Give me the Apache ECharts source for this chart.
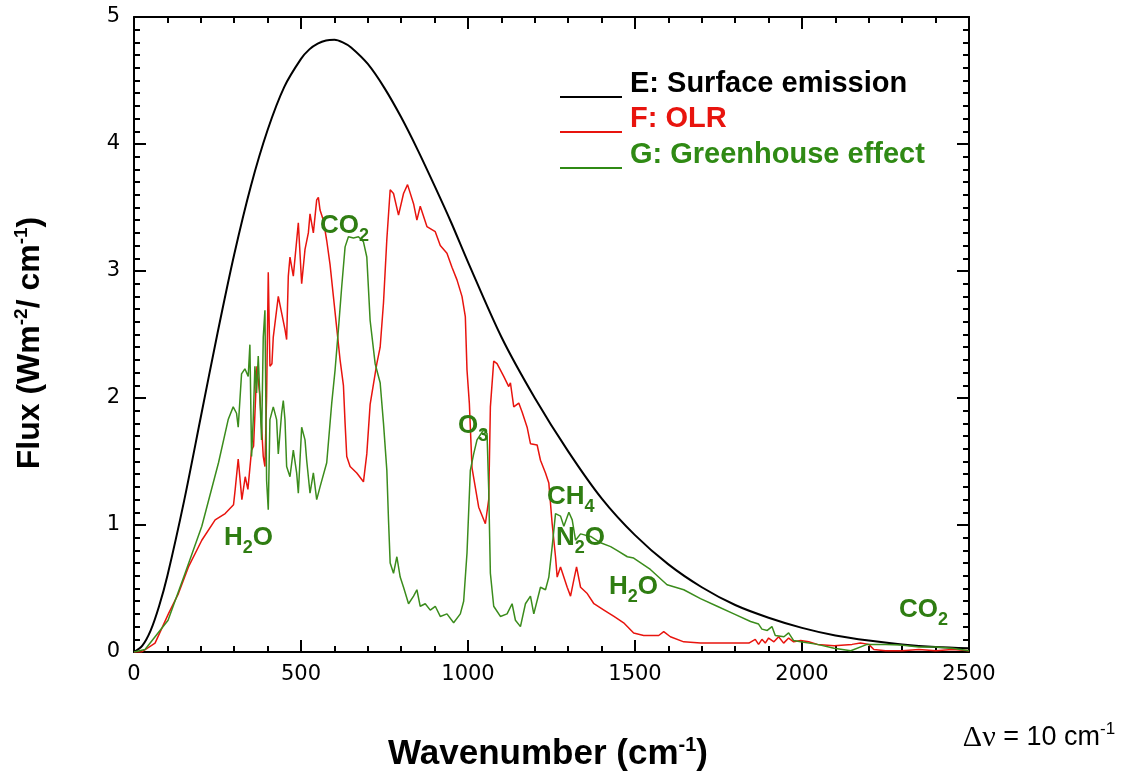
<!DOCTYPE html>
<html>
<head>
<meta charset="utf-8">
<title>Surface emission, OLR and greenhouse effect</title>
<script src="https://cdn.jsdelivr.net/npm/echarts@6/dist/echarts.min.js"></script>
<style>
html, body { margin: 0; padding: 0; background: #fff; }
#chart { width: 1135px; height: 774px; }
</style>
</head>
<body>
<div id="chart"></div>
<script>
// E: surface emission (black)
var surfaceNu = [0, 25, 50, 75, 100, 150, 200, 250, 300, 350, 400, 450, 500, 525, 550, 575, 600, 625, 650, 700, 750, 800, 850, 900, 950, 1000, 1100, 1200, 1300, 1400, 1500, 1600, 1700, 1800, 1900, 2000, 2100, 2200, 2300, 2400, 2500];
var surfaceFlux = [0, 0.05, 0.17, 0.36, 0.60, 1.19, 1.85, 2.51, 3.13, 3.67, 4.11, 4.45, 4.67, 4.745, 4.79, 4.815, 4.82, 4.80, 4.76, 4.63, 4.44, 4.21, 3.95, 3.67, 3.38, 3.07, 2.48, 2.00, 1.58, 1.21, 0.92, 0.69, 0.51, 0.37, 0.27, 0.19, 0.13, 0.09, 0.06, 0.04, 0.03];

// F: OLR (red)
var olrNu = [0, 23, 63, 103, 133, 163, 203, 243, 273, 298, 303, 312, 323, 333, 341, 352, 358, 368, 377, 387, 392, 397, 402, 407, 413, 417, 432, 442, 452, 457, 462, 467, 477, 492, 502, 512, 522, 527, 537, 547, 552, 557, 567, 577, 587, 597, 607, 617, 627, 632, 637, 647, 667, 687, 697, 707, 727, 737, 747, 757, 767, 777, 792, 807, 819, 837, 847, 857, 877, 902, 917, 937, 952, 967, 982, 992, 997, 1004, 1012, 1032, 1052, 1062, 1067, 1077, 1087, 1107, 1122, 1127, 1137, 1152, 1162, 1177, 1187, 1207, 1217, 1232, 1242, 1252, 1262, 1267, 1277, 1297, 1307, 1317, 1325, 1337, 1357, 1377, 1407, 1437, 1466, 1496, 1526, 1571, 1586, 1606, 1646, 1696, 1796, 1841, 1860, 1870, 1880, 1890, 1900, 1916, 1930, 1945, 1960, 1975, 1996, 2020, 2046, 2096, 2150, 2175, 2200, 2215, 2250, 2300, 2350, 2400, 2450, 2500];
var olrFlux = [0, 0.0, 0.07, 0.30, 0.46, 0.67, 0.88, 1.04, 1.09, 1.16, 1.28, 1.52, 1.20, 1.38, 1.28, 1.59, 1.62, 2.25, 2.01, 1.54, 1.46, 2.01, 2.99, 2.25, 2.27, 2.48, 2.80, 2.67, 2.54, 2.46, 2.96, 3.11, 2.96, 3.38, 2.90, 3.17, 3.30, 3.45, 3.30, 3.56, 3.58, 3.48, 3.40, 3.24, 3.05, 2.80, 2.55, 2.30, 2.10, 1.80, 1.54, 1.46, 1.41, 1.34, 1.56, 1.95, 2.27, 2.40, 2.75, 3.25, 3.64, 3.61, 3.44, 3.61, 3.68, 3.53, 3.40, 3.51, 3.35, 3.31, 3.20, 3.14, 3.03, 2.93, 2.80, 2.64, 2.22, 1.96, 1.45, 1.14, 1.01, 1.20, 1.93, 2.29, 2.27, 2.17, 2.09, 2.12, 1.93, 1.96, 1.89, 1.77, 1.64, 1.63, 1.51, 1.41, 1.33, 1.01, 0.75, 0.59, 0.67, 0.51, 0.44, 0.57, 0.67, 0.51, 0.46, 0.38, 0.33, 0.28, 0.23, 0.15, 0.13, 0.13, 0.16, 0.12, 0.08, 0.07, 0.07, 0.07, 0.10, 0.06, 0.10, 0.07, 0.11, 0.08, 0.12, 0.07, 0.11, 0.08, 0.09, 0.08, 0.06, 0.05, 0.06, 0.07, 0.06, 0.02, 0.01, 0.01, 0.02, 0.01, 0.02, 0.01];

// G: greenhouse effect (green)
var greenNu = [0, 33, 102, 153, 203, 253, 282, 297, 307, 312, 322, 332, 342, 347, 352, 357, 362, 367, 372, 377, 382, 387, 392, 397, 402, 407, 417, 427, 432, 442, 447, 452, 457, 467, 477, 487, 492, 502, 512, 517, 527, 537, 547, 557, 577, 592, 602, 612, 622, 632, 642, 657, 672, 687, 697, 707, 722, 737, 747, 757, 762, 767, 777, 787, 797, 807, 822, 837, 847, 857, 872, 887, 902, 917, 937, 957, 977, 987, 997, 1007, 1017, 1027, 1047, 1057, 1062, 1067, 1077, 1097, 1117, 1132, 1142, 1157, 1172, 1187, 1197, 1217, 1232, 1242, 1252, 1262, 1277, 1287, 1302, 1312, 1322, 1337, 1367, 1397, 1427, 1446, 1477, 1496, 1546, 1596, 1646, 1696, 1746, 1796, 1846, 1870, 1880, 1896, 1910, 1920, 1946, 1960, 1975, 1996, 2046, 2096, 2146, 2195, 2250, 2295, 2350, 2400, 2450, 2500];
var greenFlux = [0, 0.02, 0.25, 0.62, 0.99, 1.49, 1.83, 1.93, 1.88, 1.77, 2.19, 2.23, 2.17, 2.42, 1.54, 1.83, 2.25, 2.04, 2.33, 2.00, 1.67, 2.48, 2.69, 1.35, 1.12, 1.83, 1.93, 1.83, 1.56, 1.88, 1.98, 1.83, 1.46, 1.38, 1.59, 1.41, 1.25, 1.77, 1.67, 1.51, 1.25, 1.41, 1.20, 1.30, 1.49, 1.96, 2.22, 2.54, 2.88, 3.19, 3.27, 3.26, 3.27, 3.23, 3.11, 2.61, 2.27, 2.12, 1.80, 1.43, 1.04, 0.70, 0.62, 0.75, 0.59, 0.51, 0.38, 0.44, 0.49, 0.36, 0.38, 0.33, 0.36, 0.28, 0.30, 0.23, 0.30, 0.40, 0.78, 1.43, 1.56, 1.67, 1.75, 1.72, 1.28, 0.62, 0.36, 0.28, 0.30, 0.38, 0.25, 0.20, 0.38, 0.44, 0.30, 0.51, 0.49, 0.59, 0.83, 1.09, 1.07, 0.99, 1.10, 1.04, 0.88, 0.93, 0.91, 0.86, 0.83, 0.80, 0.75, 0.74, 0.65, 0.53, 0.49, 0.42, 0.36, 0.30, 0.24, 0.22, 0.18, 0.17, 0.20, 0.13, 0.12, 0.15, 0.09, 0.08, 0.06, 0.03, 0.01, 0.06, 0.06, 0.055, 0.04, 0.04, 0.03, 0.01];

var xTicks = [0, 2500, 500];
var yTicks = [0, 5, 1];

var GREEN_TEXT = '#2f7d12';

function pairs(xs, ys) {
    var out = [];
    for (var i = 0; i < xs.length; ++i) {
        out.push([xs[i], ys[i]]);
    }
    return out;
}

function makeAxis(kind, position, showLabels, minorSplit) {
    var range = kind == 'x' ? xTicks : yTicks;
    return {
        type: 'value',
        position: position,
        min: range[0],
        max: range[1],
        interval: range[2],
        axisLine: { show: true, onZero: false, lineStyle: { color: '#000', width: 2 } },
        axisTick: { show: true, inside: true, length: 12, lineStyle: { color: '#000', width: 2 } },
        minorTick: { show: true, splitNumber: minorSplit, length: 6, lineStyle: { color: '#000', width: 2 } },
        splitLine: { show: false },
        minorSplitLine: { show: false },
        axisLabel: {
            show: showLabels,
            margin: kind == 'x' ? 12 : 14,
            color: '#000',
            fontFamily: 'DejaVu Sans',
            fontSize: 21,
            formatter: function (v) { return String(v); }
        }
    };
}

// text is rich markup: {a|big}{b|subscript}
function annotation(x, y, text) {
    return {
        type: 'text',
        x: x,
        y: y,
        z: 50,
        style: {
            text: text,
            rich: {
                a: { fontSize: 26, fontWeight: 'bold', fontFamily: 'Liberation Sans', fill: GREEN_TEXT, lineHeight: 38 },
                b: { fontSize: 18, fontWeight: 'bold', fontFamily: 'Liberation Sans', fill: GREEN_TEXT, lineHeight: 18, verticalAlign: 'bottom' }
            },
            verticalAlign: 'middle'
        }
    };
}

function legendItem(y, color, label) {
    return [
        { type: 'line', shape: { x1: 560, y1: y + 13, x2: 622, y2: y + 13 }, style: { stroke: color, lineWidth: 2 } },
        { type: 'text', x: 630, y: y, style: { text: label, fill: color, font: 'bold 29px "Liberation Sans"', verticalAlign: 'middle' } }
    ];
}

var chart = echarts.init(document.getElementById('chart'));

var graphics = [].concat(
    legendItem(84, '#000', 'E: Surface emission'),
    legendItem(119, '#e8140e', 'F: OLR'),
    legendItem(155, '#2f8a14', 'G: Greenhouse effect'),
    [
        annotation(320, 226, '{a|CO}{b|2}'),
        annotation(224, 538, '{a|H}{b|2}{a|O}'),
        annotation(458, 426, '{a|O}{b|3}'),
        annotation(547, 497, '{a|CH}{b|4}'),
        annotation(556, 538, '{a|N}{b|2}{a|O}'),
        annotation(609, 587, '{a|H}{b|2}{a|O}'),
        annotation(899, 610, '{a|CO}{b|2}'),
        {
            type: 'text',
            x: 30,
            y: 343,
            rotation: Math.PI / 2,
            style: {
                text: '{a|Flux (Wm}{s|-2}{a|/ cm}{s|-1}{a|)}',
                rich: {
                    a: { fontSize: 32, fontWeight: 'bold', fontFamily: 'Liberation Sans', fill: '#000', lineHeight: 36 },
                    s: { fontSize: 19, fontWeight: 'bold', fontFamily: 'Liberation Sans', fill: '#000', lineHeight: 19, verticalAlign: 'top' }
                },
                align: 'center',
                verticalAlign: 'middle'
            }
        },
        {
            type: 'text',
            x: 548,
            y: 754,
            style: {
                text: '{a|Wavenumber (cm}{s|-1}{a|)}',
                rich: {
                    a: { fontSize: 35, fontWeight: 'bold', fontFamily: 'Liberation Sans', fill: '#000', lineHeight: 38 },
                    s: { fontSize: 20, fontWeight: 'bold', fontFamily: 'Liberation Sans', fill: '#000', lineHeight: 20, verticalAlign: 'top' }
                },
                align: 'center',
                verticalAlign: 'middle'
            }
        },
        {
            type: 'text',
            x: 1039,
            y: 738,
            style: {
                text: '{g|\u0394\u03bd}{a| = 10 cm}{s|-1}',
                rich: {
                    g: { fontSize: 30, fontFamily: 'Liberation Serif', fill: '#000', lineHeight: 34 },
                    a: { fontSize: 27, fontFamily: 'Liberation Sans', fill: '#000', lineHeight: 34 },
                    s: { fontSize: 17, fontFamily: 'Liberation Sans', fill: '#000', lineHeight: 17, verticalAlign: 'top' }
                },
                align: 'center',
                verticalAlign: 'middle'
            }
        }
    ]
);

var option = {
    backgroundColor: '#fff',
    animation: false,
    grid: { left: 134, right: 166, top: 17, bottom: 122 },
    xAxis: [makeAxis('x', 'bottom', true, 5), makeAxis('x', 'top', false, 5)],
    yAxis: [makeAxis('y', 'left', true, 10), makeAxis('y', 'right', false, 10)],
    series: [
        {
            name: 'E: Surface emission',
            type: 'line',
            showSymbol: false,
            smooth: 0.3,
            data: pairs(surfaceNu, surfaceFlux),
            lineStyle: { color: '#000', width: 2 },
            z: 3
        },
        {
            name: 'F: OLR',
            type: 'line',
            showSymbol: false,
            data: pairs(olrNu, olrFlux),
            lineStyle: { color: '#e8140e', width: 1.5 },
            z: 4
        },
        {
            name: 'G: Greenhouse effect',
            type: 'line',
            showSymbol: false,
            data: pairs(greenNu, greenFlux),
            lineStyle: { color: '#3b8c1c', width: 1.5 },
            z: 5
        }
    ],
    graphic: graphics
};

chart.setOption(option);
</script>
</body>
</html>
